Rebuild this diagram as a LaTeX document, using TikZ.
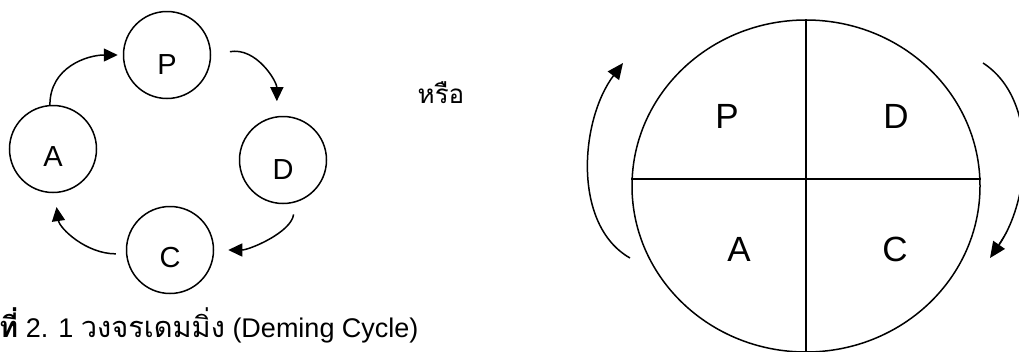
\documentclass[tikz,border=0pt]{standalone}
\usepackage{fontspec}
\setmainfont{Liberation Sans}
\newfontfamily\thai[Script=Thai]{Loma}
\usetikzlibrary{arrows.meta,shapes.geometric}
\begin{document}
\begin{tikzpicture}[x=1pt,y=-1pt,
  circ/.style={draw,circle,line width=1.5pt,minimum size=87pt,inner sep=0pt},
  lbl/.style={inner sep=0pt,font=\fontsize{29}{30}\selectfont},
  biglbl/.style={inner sep=0pt,font=\fontsize{35}{36}\selectfont},
  arr/.style={line width=1.5pt,-{Triangle[length=14pt,width=13pt]}},
  ln/.style={line width=1.5pt}]
\useasboundingbox (0,0) rectangle (1019,351);
\clip (0,0) rectangle (1019,351);
% left cycle
\node[circ] (P) at (167,55) {};
\node[circ] (D) at (283,160) {};
\node[circ] (C) at (170,250) {};
\node[circ] (A) at (53,149) {};
\node[lbl] (Pl) at (167,65) {P};
\node[lbl] (Dl) at (283,170) {D};
\node[lbl] (Cl) at (170,258) {C};
\node[lbl] (Al) at (53,157) {A};
\draw[arr,shorten >=5pt] (A.94) .. controls +(0,-38) and +(-35,0) .. (P.west);
\draw[arr,shorten <=19pt,shorten >=15pt] (P.east) .. controls +(45,-8) and +(0,-35) .. (D.98);
\draw[arr,shorten <=12pt,shorten >=14pt] (D.-74) .. controls +(-4,30) and +(35,0) .. (C.east);
\draw[arr,shorten <=10pt,shorten >=14pt] (C.185) .. controls +(-40,0) and +(5,35) .. (A.-88);
% caption
\node[anchor=base west,inner sep=0pt,font=\fontsize{27}{29}\selectfont] (cap) at (-1,337)
  {{\thai\bfseries\fontsize{29}{30}\selectfont ที่} 2. 1 {\thai\fontsize{29}{30}\selectfont วงจรเดมมิ่ง} (Deming Cycle)};
\node[anchor=base,inner sep=0pt,font=\thai\fontsize{26}{28}\selectfont] (or) at (441,103) {หรือ};
% right diagram
\node[draw,ellipse,line width=1.5pt,minimum width=348pt,minimum height=332pt,inner sep=0pt] (E) at (806,186) {};
\coordinate (Vt) at (806,19);
\coordinate (Vb) at (806,360);
\draw[ln] (Vt) -- (Vb);
\draw[ln] (E.west |- 0,179) -- (E.east |- 0,179);
\node[biglbl] (P2) at (727,116) {P};
\node[biglbl] (D2) at (896,116) {D};
\node[biglbl] (A2) at (739,249) {A};
\node[biglbl] (C2) at (895,249) {C};
\coordinate (La) at (630,258);
\coordinate (Lb) at (623,63);
\coordinate (Ra) at (983,63);
\coordinate (Rb) at (990,258);
\draw[arr,-{Triangle[length=16pt,width=14pt]}] (La) .. controls (572,225) and (580,120) .. (Lb);
\draw[arr,-{Triangle[length=16pt,width=14pt]}] (Ra) .. controls (1040,100) and (1030,200) .. (Rb);
\coordinate (Ta) at (1006,233);
\coordinate (Tb) at (999,244);
\draw[line width=0.8pt] (Ta) -- (Tb);
\end{tikzpicture}
\end{document}
